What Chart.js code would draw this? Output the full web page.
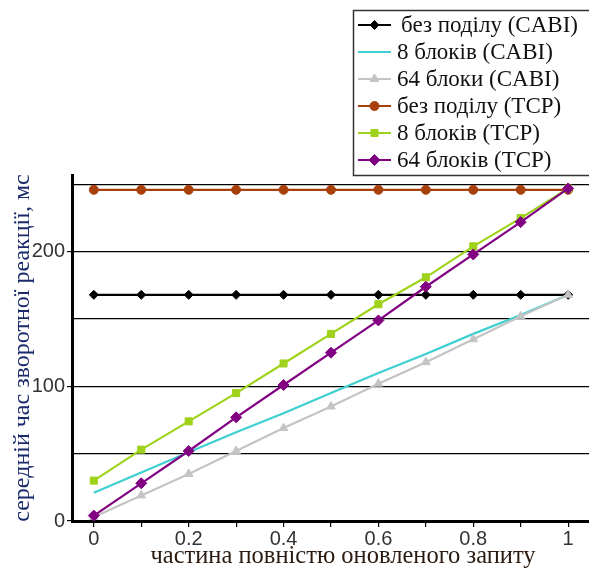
<!DOCTYPE html>
<html>
<head>
<meta charset="utf-8">
<script src="https://cdn.jsdelivr.net/npm/chart.js@4"></script>
<style>
html,body{margin:0;padding:0;background:#fff;}
#wrap{position:relative;width:589px;height:569px;}
</style>
</head>
<body>
<div id="wrap"><canvas id="c" width="589" height="569"></canvas></div>
<script>
const xValues = [0, 0.1, 0.2, 0.3, 0.4, 0.5, 0.6, 0.7, 0.8, 0.9, 1];
const seriesNames = ['без поділу (CABI)', '8 блоків (CABI)', '64 блоки (CABI)', 'без поділу (TCP)', '8 блоків (TCP)', '64 блоків (TCP)'];
const noSplitCABI = [168, 168, 168, 168, 168, 168, 168, 168, 168, 168, 168];
const blocks8CABI = [21, 36, 51, 66, 80, 95, 110, 124, 139, 153, 168];
const blocks64CABI = [3, 19, 35, 52, 69, 85, 102, 118, 135, 152, 168];
const noSplitTCP = [246, 246, 246, 246, 246, 246, 246, 246, 246, 246, 246];
const blocks8TCP = [30, 53, 74, 95, 117, 139, 161, 181, 204, 225, 247];
const blocks64TCP = [4, 28, 52, 77, 101, 125, 149, 174, 198, 222, 247];
const yLabelValues = [0, 100, 200];
const xLabelValues = [0, 0.2, 0.4, 0.6, 0.8, 1];
const yTitle = 'середній час зворотної реакції, мс';
const xTitle = 'частина повністю оновленого запиту';

const seriesValues = [noSplitCABI, blocks8CABI, blocks64CABI, noSplitTCP, blocks8TCP, blocks64TCP];
const styles = [
  {color: '#000000', pointStyle: 'rectRot', radius: 4.5},
  {color: '#3fcfd0', pointStyle: 'line', radius: 0},
  {color: '#c4c4c4', pointStyle: 'triangle', radius: 5},
  {color: '#a8400c', pointStyle: 'circle', radius: 4.5},
  {color: '#9fd21a', pointStyle: 'rect', radius: 5},
  {color: '#820082', pointStyle: 'rectRot', radius: 5.5}
];

const datasets = seriesNames.map((name, i) => ({
  label: name,
  data: xValues.map((x, j) => ({x: x, y: seriesValues[i][j]})),
  borderColor: styles[i].color,
  backgroundColor: styles[i].color,
  borderWidth: 2.2,
  pointStyle: styles[i].pointStyle,
  pointRadius: styles[i].radius,
  pointBorderWidth: 1,
  pointHoverRadius: styles[i].radius,
  tension: 0,
  order: 10 - i
}));

function near(v, arr) { return arr.some(a => Math.abs(a - v) < 1e-6); }

const stretchPlugin = {
  id: 'stretchRight',
  afterLayout(chart) {
    const x = chart.scales.x;
    x.right = chart.width;
    x.width = x.right - x.left;
    x.configure();
    chart.chartArea.right = chart.width;
    chart.chartArea.width = chart.chartArea.right - chart.chartArea.left;
  }
};

const legendPlugin = {
  id: 'boxLegend',
  afterDraw(chart) {
    const ctx = chart.ctx;
    ctx.save();
    ctx.strokeStyle = '#333';
    ctx.lineWidth = 1.5;
    ctx.fillStyle = '#fff';
    ctx.fillRect(353, 10, 260, 166);
    ctx.strokeRect(353.5, 10.5, 260, 165);
    const rowY = [25, 52, 79, 106, 133, 160];
    ctx.font = '23px "Liberation Serif", "DejaVu Serif", serif';
    ctx.textBaseline = 'middle';
    chart.data.datasets.forEach((ds, i) => {
      const y = rowY[i];
      ctx.strokeStyle = ds.borderColor;
      ctx.lineWidth = 2.2;
      ctx.beginPath();
      ctx.moveTo(358, y);
      ctx.lineTo(391, y);
      ctx.stroke();
      if (ds.pointRadius > 0) {
        ctx.fillStyle = ds.backgroundColor;
        ctx.strokeStyle = ds.borderColor;
        ctx.lineWidth = 1;
        Chart.helpers.drawPoint(ctx, {pointStyle: ds.pointStyle, radius: ds.pointRadius, rotation: 0, borderWidth: 1}, 374.5, y);
      }
      ctx.fillStyle = '#111';
      ctx.fillText(ds.label, i === 0 ? 401 : 397, y + 1);
    });
    // x axis title
    ctx.font = '24.5px "Liberation Serif", "DejaVu Serif", serif';
    ctx.fillStyle = '#2a1a10';
    ctx.textAlign = 'center';
    ctx.textBaseline = 'middle';
    ctx.fillText(xTitle, 343, 557);
    ctx.restore();
  }
};

new Chart(document.getElementById('c'), {
  type: 'line',
  data: {datasets: datasets},
  options: {
    responsive: false,
    animation: false,
    devicePixelRatio: 1,
    layout: {padding: {top: 175, right: 0, bottom: 0, left: 0}},
    plugins: {legend: {display: false}, tooltip: {enabled: false}},
    scales: {
      x: {
        type: 'linear',
        min: -0.046,
        max: 1.044,
        afterFit(s) { s.height = 48; },
        ticks: {
          stepSize: 0.1,
          autoSkip: false,
          maxRotation: 0,
          padding: 0,
          color: '#333',
          font: {family: '"Liberation Sans", Arial, sans-serif', size: 20},
          callback: v => near(v, xLabelValues) ? String(Math.round(v * 10) / 10) : ''
        },
        afterBuildTicks(s) {
          s.ticks = [];
          for (let k = 0; k <= 10; k++) s.ticks.push({value: k / 10});
        },
        grid: {drawOnChartArea: false, tickLength: 6, color: '#000', lineWidth: 1.2},
        border: {display: true, color: '#000', width: 3}
      },
      y: {
        min: 0,
        max: 257,
        afterFit(s) { s.width = 72; },
        afterBuildTicks(s) {
          s.ticks = [0, 50, 100, 150, 200, 250].map(v => ({value: v}));
        },
        ticks: {
          padding: 2,
          color: '#333',
          font: {family: '"Liberation Sans", Arial, sans-serif', size: 20},
          callback: v => near(v, yLabelValues) ? String(v) : ''
        },
        grid: {
          color: '#000',
          lineWidth: 1.2,
          tickLength: 5,
          tickColor: c => (c.tick && near(c.tick.value, yLabelValues)) ? '#000' : 'rgba(0,0,0,0)'
        },
        border: {display: true, color: '#000', width: 3},
        title: {
          display: true,
          text: yTitle,
          color: '#1b2a6b',
          padding: {top: 8, bottom: 0},
          font: {family: '"Liberation Serif", "DejaVu Serif", serif', size: 24}
        }
      }
    }
  },
  plugins: [stretchPlugin, legendPlugin]
});
</script>
</body>
</html>
